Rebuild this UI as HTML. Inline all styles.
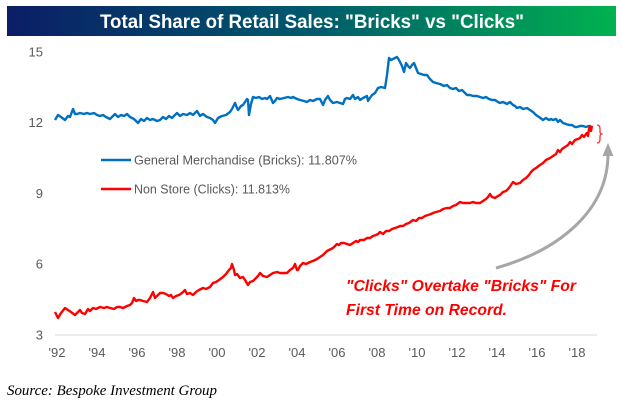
<!DOCTYPE html>
<html><head><meta charset="utf-8"><style>
html,body{margin:0;padding:0;background:#fff;}
svg{display:block;}
</style></head><body>
<svg width="622" height="409" viewBox="0 0 622 409" xmlns="http://www.w3.org/2000/svg">
<defs>
<linearGradient id="tg" x1="0" y1="0" x2="1" y2="0">
<stop offset="0" stop-color="#0b1d66"/>
<stop offset="0.5" stop-color="#005a6c"/>
<stop offset="1" stop-color="#00b24f"/>
</linearGradient>
</defs>
<rect width="622" height="409" fill="#fff"/>
<rect x="7" y="6" width="609" height="30" fill="url(#tg)"/>
<text x="312" y="28" text-anchor="middle" font-family="Liberation Sans, sans-serif" font-weight="bold" font-size="19" fill="#fff" textLength="424" lengthAdjust="spacingAndGlyphs">Total Share of Retail Sales: "Bricks" vs "Clicks"</text>

<g font-family="Liberation Sans, sans-serif" font-size="13" fill="#595959" text-anchor="end">
<text x="43" y="56.5">15</text>
<text x="43" y="127.2">12</text>
<text x="43" y="198">9</text>
<text x="43" y="268.7">6</text>
<text x="43" y="339.5">3</text>
</g>
<line x1="55" y1="335" x2="597" y2="335" stroke="#d9d9d9" stroke-width="1"/>
<g font-family="Liberation Sans, sans-serif" font-size="13" fill="#595959" text-anchor="middle">
<text x="57" y="357">'92</text>
<text x="97" y="357">'94</text>
<text x="137" y="357">'96</text>
<text x="177" y="357">'98</text>
<text x="217" y="357">'00</text>
<text x="257" y="357">'02</text>
<text x="297" y="357">'04</text>
<text x="337" y="357">'06</text>
<text x="377" y="357">'08</text>
<text x="417" y="357">'10</text>
<text x="457" y="357">'12</text>
<text x="497" y="357">'14</text>
<text x="537" y="357">'16</text>
<text x="577" y="357">'18</text>
</g>

<polyline fill="none" stroke="#0070c0" stroke-width="2.4" stroke-linejoin="round" points="55,120 58,115 61,117 65,120 68,116 70,117 73,109 75,114 77,114 80,113 84,114 87,113 90,114 94,113 97,115 100,116 103,115 106,117 110,119 113,116 115,114 118,117 121,115 124,116 127,114 130,117 134,119 138,123 141,119 144,121 147,118 150,120 153,119 157,121 160,120 163,117 166,119 169,116 172,118 175,115 177,113 180,116 183,114 187,115 190,113 193,115 197,111 200,116 203,114 207,117 210,118 213,120 215,123 218,118 222,116 226,115 230,112 232,109 235,103 237,108 238,110 241,106 243,105 245,102 247,99 248,100 249,115 251,104 253,97 256,98 259,97 262,99 265,98 267,99 270,96 273,103 275,101 277,98 280,99 284,98 288,97 291,98 293,97 297,99 300,100 304,101 307,102 310,100 313,101 317,99 320,99 323,105 325,100 328,96 330,100 333,103 337,102 340,103 343,104 345,99 347,98 350,99 353,95 355,99 358,97 360,100 363,98 367,96 368,101 370,98 372,95 375,93 378,88 381,87 385,88 387,75 389,58 391,60 393,59 395,58 397,57 399,60 400,62 402,66 404,72 406,63 408,66 410,68 412,65 414,63 416,68 418,73 421,74 424,75 427,75 430,79 433,82 436,83 440,84 444,86 447,85 450,88 453,89 456,88 459,91 462,90 465,93 467,95 470,95 473,96 477,96 480,97 483,98 486,97 489,99 492,100 495,100 498,102 500,103 503,102 507,104 510,102 513,105 515,106 517,108 520,107 523,109 527,108 530,110 533,112 536,115 539,117 543,120 546,118 549,120 551,119 553,120 556,119 558,122 560,120 563,123 566,124 569,125 572,125 575,127 577,127 580,126 583,126 586,127 589,126 592,127"/>

<polyline fill="none" stroke="#ff0000" stroke-width="2.4" stroke-linejoin="round" points="55,312 57,316 58,318 61,313 65,308 68,310 71,312 75,315 78,312 80,310 82,313 85,314 88,309 90,311 93,308 96,309 100,307 104,308 107,307 110,308 114,309 117,307 120,307 123,308 127,306 130,305 132,303 134,298 136,301 138,300 140,300 143,301 147,302 150,298 153,292 155,298 157,296 160,293 163,293 166,294 169,296 171,295 173,298 176,296 179,295 182,293 185,290 187,294 190,293 193,295 196,292 199,290 203,288 206,289 210,287 213,283 216,282 219,280 223,277 226,274 229,270 231,268 232,264 234,270 235,275 237,274 240,278 243,277 245,280 248,285 250,282 253,281 255,279 258,276 260,273 263,276 267,277 270,275 273,273 277,272 280,273 284,273 287,273 290,270 293,268 295,264 297,270 298,270 300,266 303,263 306,264 310,262 313,261 317,259 320,257 323,255 325,253 327,251 329,250 331,249 333,248 335,246 337,244 339,245 341,243 344,243 347,244 350,245 353,243 356,241 358,242 360,240 364,240 367,238 370,238 373,236 376,235 378,234 380,232 383,234 386,231 389,231 392,229 395,228 398,227 400,226 403,226 406,224 409,223 413,220 416,221 419,218 422,218 425,216 428,215 431,214 433,213 436,212 440,211 443,209 447,208 450,208 453,206 456,205 460,202 463,203 466,203 470,203 473,202 476,203 480,203 483,201 486,199 488,197 490,194 492,197 495,198 498,196 500,195 503,192 506,191 509,188 511,185 513,182 516,184 520,183 523,180 526,178 529,175 531,172 533,170 536,168 540,165 543,163 546,160 550,158 553,156 556,154 558,150 560,152 562,149 565,147 568,145 570,142 572,144 575,140 578,139 580,138 582,135 584,137 586,134 587,133 588,136 589,129 590,126 591,131 592,126"/>

<line x1="101" y1="160" x2="131" y2="160" stroke="#0070c0" stroke-width="2.4"/>
<text x="134" y="164.5" font-family="Liberation Sans, sans-serif" font-size="12.5" fill="#595959" textLength="223" lengthAdjust="spacingAndGlyphs">General Merchandise (Bricks): 11.807%</text>
<line x1="101" y1="189" x2="131" y2="189" stroke="#ff0000" stroke-width="2.4"/>
<text x="134" y="193.5" font-family="Liberation Sans, sans-serif" font-size="12.5" fill="#595959" textLength="156" lengthAdjust="spacingAndGlyphs">Non Store (Clicks): 11.813%</text>

<path d="M597,125 Q600,125 600,129 L600,132 Q600,134 602.5,134 Q600,134 600,136 L600,139 Q600,143 597,143" fill="none" stroke="#ff3030" stroke-width="1.3"/>

<path d="M496,268 C560,250 608,210 608,154" fill="none" stroke="#a6a6a6" stroke-width="3"/>
<polygon points="608,143 602.5,156 613.5,156" fill="#a6a6a6"/>

<g font-family="Liberation Sans, sans-serif" font-weight="bold" font-style="italic" font-size="16" fill="#ff0000">
<text x="346" y="291" textLength="230" lengthAdjust="spacingAndGlyphs">"Clicks" Overtake "Bricks" For</text>
<text x="346" y="315" textLength="161" lengthAdjust="spacingAndGlyphs">First Time on Record.</text>
</g>

<text x="7" y="395" font-family="Liberation Serif, serif" font-style="italic" font-size="15" fill="#000" textLength="210" lengthAdjust="spacingAndGlyphs">Source: Bespoke Investment Group</text>
</svg>
</body></html>
